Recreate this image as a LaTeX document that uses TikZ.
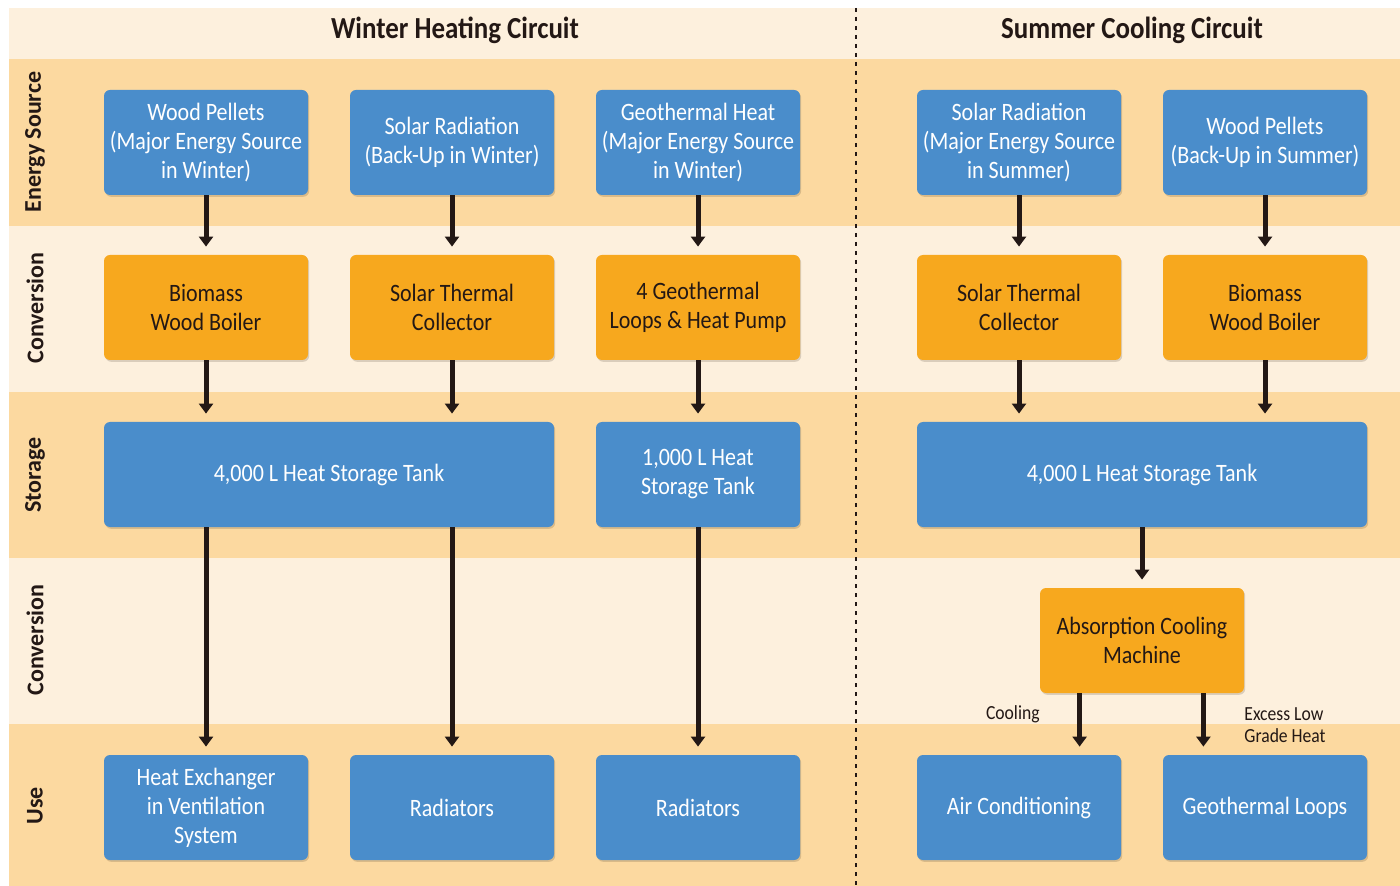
\documentclass[tikz,border=0pt]{standalone}
\usepackage{fontspec}
\setmainfont{Carlito}[FakeStretch=0.88]
\newfontfamily\sidefont{Carlito}
\usetikzlibrary{arrows.meta,shadows}

\definecolor{bandDark}{HTML}{FCD9A0}
\definecolor{bandLight}{HTML}{FDF0DD}
\definecolor{boxBlue}{HTML}{4A8DCB}
\definecolor{boxOrange}{HTML}{F7A81E}
\definecolor{inkDark}{HTML}{231815}

\tikzset{
  blk/.style={rounded corners=3pt, minimum width=102pt, minimum height=52.5pt, inner sep=0pt,
    align=center, font=\fontsize{12.5}{14.5}\selectfont,
    drop shadow={shadow xshift=0.6pt, shadow yshift=-0.9pt, fill=black!80!brown, opacity=0.16}},
  srcbox/.style={blk, fill=boxBlue, text=white},
  convbox/.style={blk, fill=boxOrange, text=inkDark},
  tankbox/.style={srcbox, minimum width=225pt},
  flow/.style={draw=inkDark, line width=2.5pt, -{Triangle[width=7pt,length=5pt]}, shorten >=4pt},
  sidelabel/.style={rotate=90, text=inkDark, font=\sidefont\bfseries\fontsize{12}{13}\selectfont},
  circtitle/.style={text=inkDark, font=\bfseries\fontsize{15.3}{17}\selectfont},
  note/.style={text=inkDark, align=left, font=\fontsize{10}{11}\selectfont, inner sep=0pt}
}

\begin{document}
\begin{tikzpicture}[x=0.5pt,y=-0.5pt]
  \useasboundingbox (0,0) rectangle (1400,886);

  % bands
  \foreach \ya/\yb/\c in {8/59/bandLight,59/226/bandDark,226/392/bandLight,392/558/bandDark,558/724/bandLight,724/886/bandDark}
    \fill[\c] (9,\ya) rectangle (1400,\yb);
  \draw[inkDark, line width=0.7pt, dash pattern=on 2pt off 2.5pt] (856,8) -- (856,886);

  \node[circtitle] (tw) at (455,30) {Winter Heating Circuit};
  \node[circtitle] (ts) at (1132,30) {Summer Cooling Circuit};

  \foreach \y/\t in {142/Energy Source,308/Conversion,475/Storage,640/Conversion,806/Use}
    \node[sidelabel] at (35,\y) {\t};

  % winter circuit
  \node[srcbox] (wp) at (206,142.5) {Wood Pellets\\(Major Energy Source\\in Winter)};
  \node[srcbox] (sr) at (452,142.5) {Solar Radiation\\(Back-Up in Winter)};
  \node[srcbox] (gh) at (698,142.5) {Geothermal Heat\\(Major Energy Source\\in Winter)};

  \node[convbox] (bwb) at (206,307.5) {Biomass\\Wood Boiler};
  \node[convbox] (stc) at (452,307.5) {Solar Thermal\\Collector};
  \node[convbox] (ghp) at (698,307.5) {4 Geothermal\\Loops \& Heat Pump};

  \node[tankbox] (tankw) at (329,474.5) {4,000 L Heat Storage Tank};
  \node[srcbox] (tanks) at (698,474.5) {1,000 L Heat\\Storage Tank};

  \node[srcbox] (hx) at (206,807.5) {Heat Exchanger\\in Ventilation\\System};
  \node[srcbox] (rada) at (452,807.5) {Radiators};
  \node[srcbox] (radb) at (698,807.5) {Radiators};

  % summer circuit
  \node[srcbox] (srs) at (1019,142.5) {Solar Radiation\\(Major Energy Source\\in Summer)};
  \node[srcbox] (wps) at (1265,142.5) {Wood Pellets\\(Back-Up in Summer)};

  \node[convbox] (stcs) at (1019,307.5) {Solar Thermal\\Collector};
  \node[convbox] (bwbs) at (1265,307.5) {Biomass\\Wood Boiler};

  \node[tankbox] (tankc) at (1142,474.5) {4,000 L Heat Storage Tank};
  \node[convbox] (acm) at (1142,640.5) {Absorption Cooling\\Machine};

  \node[srcbox] (ac) at (1019,807.5) {Air Conditioning};
  \node[srcbox] (gl) at (1265,807.5) {Geothermal Loops};

  \coordinate (outc) at ([xshift=20pt]acm.south west);
  \coordinate (outh) at ([xshift=-20.5pt]acm.south east);

  \node[note, anchor=east] (lcool) at (1040,714) {Cooling};
  \node[note, anchor=west] (lheat) at (1244,725) {Excess Low\\Grade Heat};

  % arrows
  \draw[flow] (wp) -- (bwb);
  \draw[flow] (sr) -- (stc);
  \draw[flow] (gh) -- (ghp);
  \draw[flow] (bwb) -- (bwb |- tankw.north);
  \draw[flow] (stc) -- (stc |- tankw.north);
  \draw[flow] (ghp) -- (tanks);
  \draw[flow] (hx |- tankw.south) -- (hx);
  \draw[flow] (rada |- tankw.south) -- (rada);
  \draw[flow] (tanks) -- (radb);

  \draw[flow] (srs) -- (stcs);
  \draw[flow] (wps) -- (bwbs);
  \draw[flow] (stcs) -- (stcs |- tankc.north);
  \draw[flow] (bwbs) -- (bwbs |- tankc.north);
  \draw[flow] (tankc) -- (acm);
  \draw[flow] (outc) -- (outc |- ac.north);
  \draw[flow] (outh) -- (outh |- gl.north);
\end{tikzpicture}
\end{document}
